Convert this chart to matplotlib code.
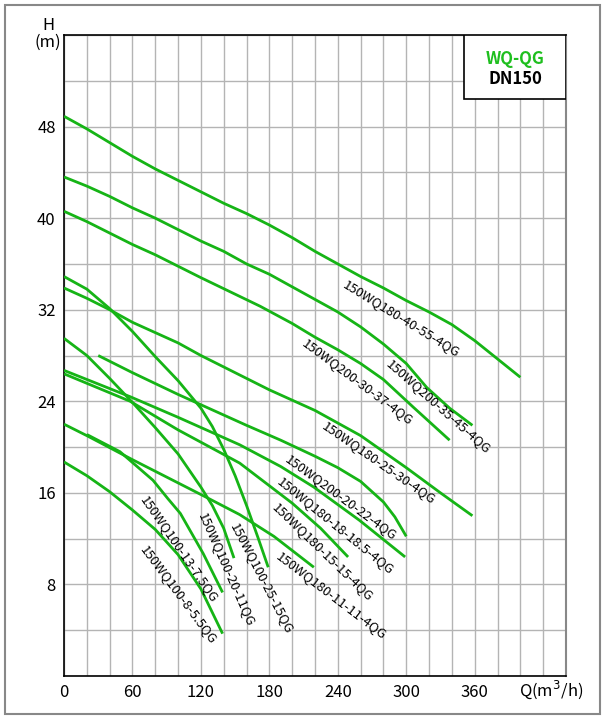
import matplotlib
matplotlib.use("Agg")
import matplotlib.pyplot as plt
from matplotlib.patches import Rectangle

plt.rcParams['font.family'] = ['Noto Sans CJK SC', 'DejaVu Sans']

# Kennlinien (Q in m3/h, H in m)
q_180_40_55 = [0, 20, 40, 60, 80, 100, 120, 140, 160, 180, 200, 220, 240, 260, 280, 300, 320, 340, 360, 380, 400]
h_180_40_55 = [48.9, 47.8, 46.6, 45.4, 44.3, 43.3, 42.3, 41.3, 40.4, 39.4, 38.3, 37.1, 36.0, 34.9, 33.9, 32.8, 31.8, 30.7, 29.3, 27.7, 26.1]

q_200_35_45 = [0, 20, 40, 60, 80, 100, 120, 140, 160, 180, 200, 220, 240, 260, 280, 300, 318, 338, 358]
h_200_35_45 = [43.6, 42.8, 41.9, 40.9, 40.0, 39.0, 38.0, 37.1, 36.0, 35.1, 34.0, 32.9, 31.8, 30.5, 29.0, 27.3, 25.2, 23.4, 21.9]

q_200_30_37 = [0, 20, 40, 60, 80, 100, 120, 172, 200, 220, 240, 260, 280, 306, 338]
h_200_30_37 = [40.6, 39.7, 38.7, 37.7, 36.8, 35.8, 34.8, 32.3, 30.8, 29.6, 28.5, 27.3, 25.9, 23.5, 20.6]

q_180_25_30 = [0, 20, 40, 60, 80, 100, 120, 140, 160, 180, 220, 260, 300, 330, 358]
h_180_25_30 = [33.9, 33.0, 32.0, 30.9, 30.0, 29.1, 28.0, 27.0, 26.0, 25.0, 23.2, 21.0, 18.2, 16.0, 14.0]

q_200_20_22 = [30, 60, 100, 140, 160, 190, 220, 240, 260, 280, 290, 300]
h_200_20_22 = [28.0, 26.5, 24.6, 22.8, 21.9, 20.6, 19.2, 18.2, 17.0, 15.2, 13.9, 12.2]

q_180_18_185 = [0, 58, 100, 154, 190, 219, 259, 299]
h_180_18_185 = [26.7, 24.4, 22.6, 20.2, 18.3, 16.5, 13.6, 10.4]

q_180_15_15 = [0, 58, 100, 154, 200, 225, 249]
h_180_15_15 = [26.4, 24.0, 21.5, 18.6, 15.1, 12.9, 10.4]

q_180_11_11 = [0, 20, 60, 125, 154, 184, 219]
h_180_11_11 = [22.0, 21.0, 18.9, 15.6, 14.1, 12.2, 9.5]

q_100_25_15 = [0, 20, 40, 60, 80, 100, 120, 130, 140, 150, 160, 170, 179]
h_100_25_15 = [34.9, 33.8, 32.1, 30.1, 27.9, 25.8, 23.4, 21.8, 19.8, 17.5, 14.9, 12.1, 9.5]

q_100_20_11 = [0, 20, 40, 60, 80, 100, 120, 130, 140, 149]
h_100_20_11 = [29.5, 28.0, 26.0, 23.9, 21.7, 19.4, 16.5, 14.9, 12.9, 10.3]

q_100_13_75 = [20, 49, 78, 91, 102, 122, 139]
h_100_13_75 = [21.1, 19.6, 17.1, 15.5, 14.2, 10.7, 7.3]

q_100_8_55 = [0, 20, 40, 60, 80, 100, 120, 139]
h_100_8_55 = [18.7, 17.5, 16.1, 14.5, 12.8, 10.6, 7.6, 3.7]

curves = [
    (q_180_40_55, h_180_40_55), (q_200_35_45, h_200_35_45), (q_200_30_37, h_200_30_37),
    (q_180_25_30, h_180_25_30), (q_200_20_22, h_200_20_22), (q_180_18_185, h_180_18_185),
    (q_180_15_15, h_180_15_15), (q_180_11_11, h_180_11_11), (q_100_25_15, h_100_25_15),
    (q_100_20_11, h_100_20_11), (q_100_13_75, h_100_13_75), (q_100_8_55, h_100_8_55),
]

# Beschriftungen: Text, Position (Q, H), Winkel
labels = [
    ('150WQ180-40-55-4QG', 295.6, 31.2, -31.6),
    ('150WQ200-35-45-4QG', 328, 23.5, -41.5),
    ('150WQ200-30-37-4QG', 257.4, 25.7, -36.7),
    ('150WQ180-25-30-4QG', 275.6, 18.6, -34.6),
    ('150WQ200-20-22-4QG', 242.8, 15.6, -36.2),
    ('150WQ180-18-18.5-4QG', 238, 13.1, -39),
    ('150WQ180-15-15-4QG', 226.4, 10.85, -44),
    ('150WQ180-11-11-4QG', 234, 7.0, -37.3),
    ('150WQ100-25-15QG', 173.4, 8.5, -62.7),
    ('150WQ100-20-11QG', 142.7, 9.3, -66.3),
    ('150WQ100-13-7.5QG', 101, 11.1, -55.3),
    ('150WQ100-8-5.5QG', 100.3, 7.1, -53.3),
]

green = '#16b416'

fig = plt.figure(figsize=(6.05, 7.19), dpi=100)
ax = fig.add_axes([0.1058, 0.0598, 0.8297, 0.8915])

for q, h in curves:
    ax.plot(q, h, color=green, lw=2.0, solid_capstyle='butt', solid_joinstyle='round', zorder=3)

for txt, x, y, rot in labels:
    ax.text(x, y, txt, rotation=rot, rotation_mode='anchor', ha='center', va='center',
            fontsize=9.5, color='black', zorder=4)

ax.set_xlim(0, 440)
ax.set_ylim(0, 56)
ax.set_xticks(range(0, 441, 20))
ax.set_yticks(range(0, 57, 4))
ax.set_xticklabels([str(v) if v % 60 == 0 and v <= 360 else '' for v in range(0, 441, 20)])
ax.set_yticklabels([str(v) if v % 8 == 0 and 0 < v <= 48 else '' for v in range(0, 57, 4)])
ax.tick_params(length=0, labelsize=12, pad=6)
ax.grid(True, color='#b4b4b4', lw=1.0, zorder=1)
for s in ['left', 'bottom', 'top']:
    ax.spines[s].set_color('black')
    ax.spines[s].set_linewidth(1.2)
ax.spines['right'].set_color('#888888')
ax.spines['right'].set_linewidth(1.5)

fig.text(48 / 605, 1 - 26 / 719, 'H', ha='center', va='center', fontsize=12)
fig.text(48 / 605, 1 - 42 / 719, '(m)', ha='center', va='center', fontsize=12)
fig.text(551 / 605, 1 - 690 / 719, 'Q(m$^3$/h)', ha='center', va='center', fontsize=12)

# Kasten oben rechts
ax.add_patch(Rectangle((0.797, 0.90), 0.203, 0.10, transform=ax.transAxes,
                       facecolor='white', edgecolor='black', lw=1.2, zorder=5))
ax.text(0.8985, 0.963, 'WQ-QG', transform=ax.transAxes, ha='center', va='center',
        fontsize=12, color='#1fbf1f', fontweight='bold', zorder=6)
ax.text(0.8985, 0.932, 'DN150', transform=ax.transAxes, ha='center', va='center',
        fontsize=12, color='black', fontweight='bold', zorder=6)

fig.patches.append(Rectangle((5 / 605, 5 / 719), 595 / 605, 709 / 719, transform=fig.transFigure,
                             fill=False, edgecolor='#888888', lw=1.5))

fig.savefig('out.png', dpi=100)
